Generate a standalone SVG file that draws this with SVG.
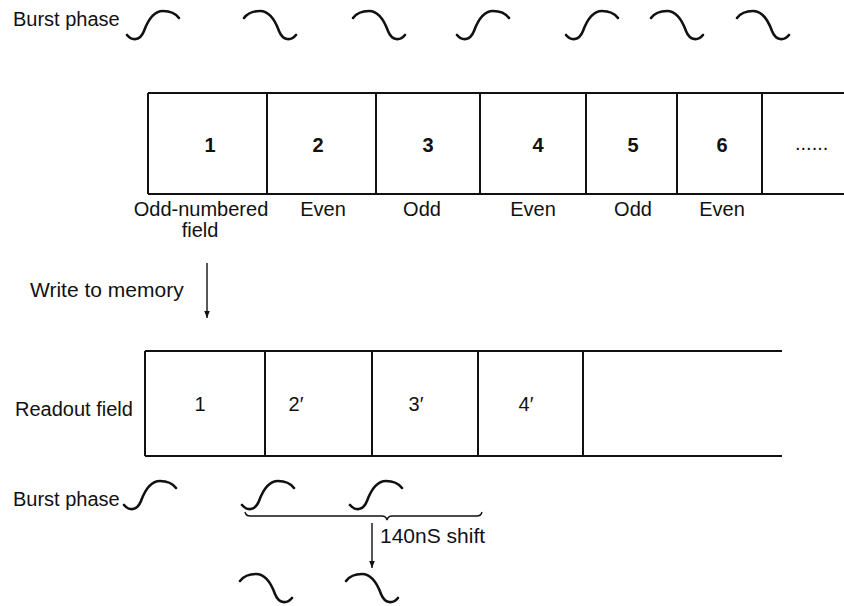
<svg xmlns="http://www.w3.org/2000/svg" width="844" height="606" viewBox="0 0 844 606">
<style>
text{font-family:"Liberation Sans",Arial,sans-serif;fill:#111;font-size:20px}
.c{text-anchor:middle}
.b{font-weight:bold}
.l{font-size:21px}
.ln{stroke:#111;stroke-width:2;fill:none}
.wv{stroke:#111;stroke-width:2.6;fill:none;stroke-linecap:round}
.ar{stroke:#111;stroke-width:1.4;fill:none}
</style>
<defs>
<path id="rise" d="M0,25 C5,31 13,31 17,21 C21,10 27,1 36,1 C43,1 49,4 52,8"/>
<marker id="ah" viewBox="0 0 10 10" refX="10" refY="5" markerWidth="7" markerHeight="7" markerUnits="userSpaceOnUse" orient="auto"><path d="M0,1 L10,5 L0,9 Z" fill="#111"/></marker>
</defs>
<rect width="844" height="606" fill="#fff"/>

<g id="burst-top">
<text x="13" y="26">Burst phase</text>
<use href="#rise" class="wv" transform="translate(127,10)"/>
<use href="#rise" class="wv" transform="translate(296,10) scale(-1,1)"/>
<use href="#rise" class="wv" transform="translate(405,10) scale(-1,1)"/>
<use href="#rise" class="wv" transform="translate(457,10)"/>
<use href="#rise" class="wv" transform="translate(566,10)"/>
<use href="#rise" class="wv" transform="translate(703,10) scale(-1,1)"/>
<use href="#rise" class="wv" transform="translate(789,10) scale(-1,1)"/>
</g>

<g id="fields">
<path class="ln" d="M148,93 H844 M148,194 H844 M148,93 V194 M267,93 V194 M376,93 V194 M480,93 V194 M586,93 V194 M677,93 V194 M762,93 V194"/>
<g id="f1"><text class="c b" x="210" y="152">1</text><text class="c" x="201" y="216">Odd-numbered</text><text class="c" x="200" y="237">field</text></g>
<g id="f2"><text class="c b" x="318" y="152">2</text><text class="c" x="323" y="216">Even</text></g>
<g id="f3"><text class="c b" x="428" y="152">3</text><text class="c" x="422" y="216">Odd</text></g>
<g id="f4"><text class="c b" x="538" y="152">4</text><text class="c" x="533" y="216">Even</text></g>
<g id="f5"><text class="c b" x="633" y="152">5</text><text class="c" x="633" y="216">Odd</text></g>
<g id="f6"><text class="c b" x="722" y="152">6</text><text class="c" x="722" y="216">Even</text></g>
<g id="f7"><text x="795" y="150">......</text></g>
</g>

<g id="write-label"><text class="l" x="30" y="297">Write to memory</text></g>

<g id="readout">
<text x="15" y="416">Readout field</text>
<path class="ln" d="M145,351 H782 M145,456 H782 M145,351 V456 M265,351 V456 M372,351 V456 M478,351 V456 M583,351 V456"/>
<g id="r1"><text class="c" x="200" y="411">1</text></g>
<g id="r2"><text class="c" x="296" y="411">2′</text></g>
<g id="r3"><text class="c" x="416" y="411">3′</text></g>
<g id="r4"><text class="c" x="526" y="411">4′</text></g>
</g>

<g id="burst-bottom">
<text x="13" y="506">Burst phase</text>
<use href="#rise" class="wv" transform="translate(124,480)"/>
<use href="#rise" class="wv" transform="translate(242,480)"/>
<use href="#rise" class="wv" transform="translate(350,480)"/>
<use href="#rise" class="wv" transform="translate(292,573) scale(-1,1)"/>
<use href="#rise" class="wv" transform="translate(398,573) scale(-1,1)"/>
<path class="ar" d="M245,512 Q246,516 250,516 L382,516 Q386,516 387,520 Q388,516 392,516 L477,516 Q481,516 482,512"/>
<text class="l" x="380" y="543">140nS shift</text>
</g>

<g id="connectors">
<line class="ar" x1="207" y1="263" x2="207" y2="318" marker-end="url(#ah)"/>
<line class="ar" x1="372" y1="523" x2="372" y2="568" marker-end="url(#ah)"/>
</g>
</svg>
